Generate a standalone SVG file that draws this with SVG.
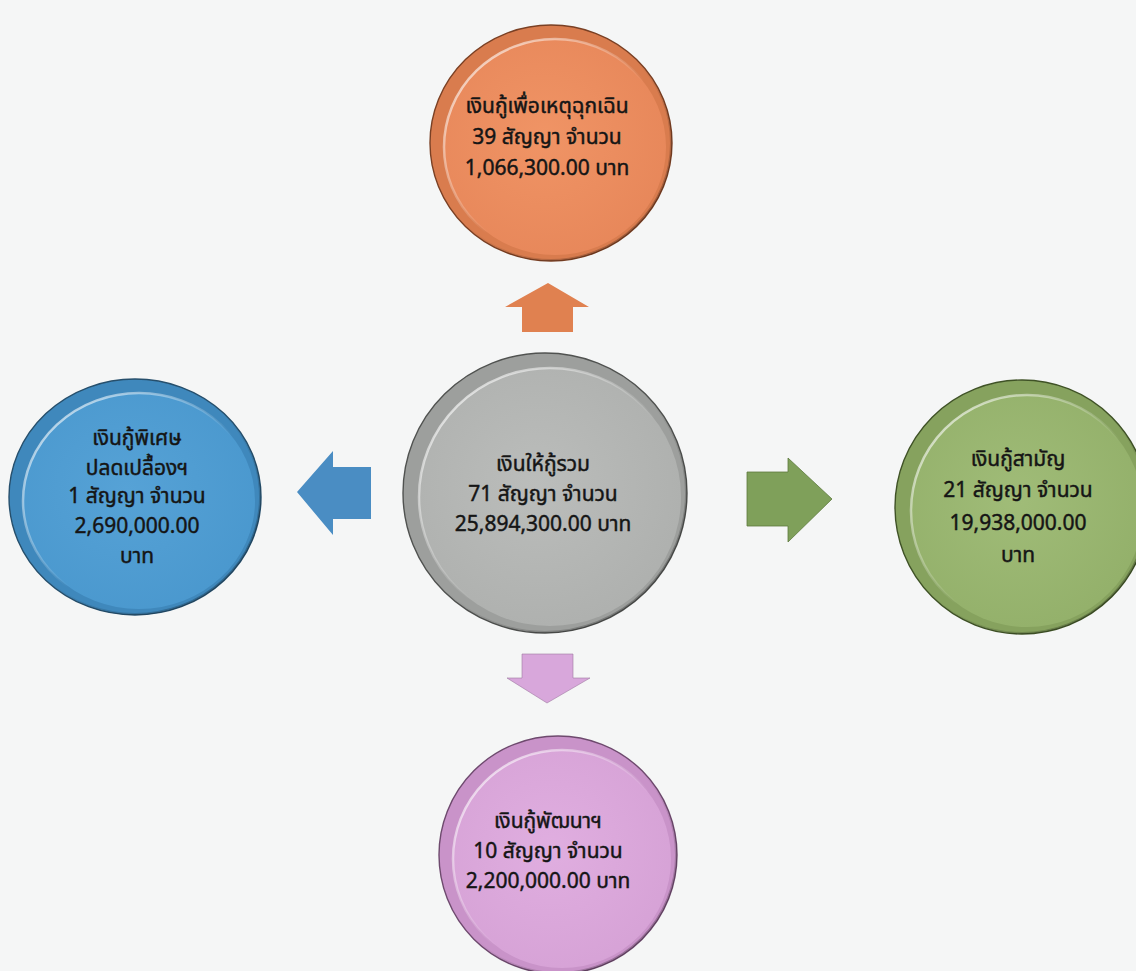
<svg xmlns="http://www.w3.org/2000/svg" width="1136" height="971" viewBox="0 0 1136 971">
<style>
  .lbl { font-family: "Noto Sans Thai", Tahoma, "Liberation Sans", "DejaVu Sans", sans-serif; font-size: 21px; fill: #151515; stroke: #151515; stroke-width: 0.45; text-anchor: middle; }
  .rimline { stroke-width: 1.4; }
  .hl { fill: none; stroke: url(#hlGrad); stroke-width: 2.5; }
  .shade { fill: none; stroke: url(#shGrad); stroke-width: 2; }
</style>
<defs>
  <linearGradient id="hlGrad" x1="0" y1="0" x2="1" y2="1">
    <stop offset="0" stop-color="#ffffff" stop-opacity="0.8"/>
    <stop offset="0.4" stop-color="#ffffff" stop-opacity="0.25"/>
    <stop offset="0.55" stop-color="#ffffff" stop-opacity="0"/>
  </linearGradient>
  <linearGradient id="shGrad" x1="0" y1="0" x2="1" y2="1">
    <stop offset="0.5" stop-color="#000000" stop-opacity="0"/>
    <stop offset="1" stop-color="#000000" stop-opacity="0.35"/>
  </linearGradient>
  <radialGradient id="fOrange" cx="0.45" cy="0.45" r="0.6">
    <stop offset="0" stop-color="#F09465"/><stop offset="1" stop-color="#E7875A"/>
  </radialGradient>
  <radialGradient id="fGray" cx="0.45" cy="0.45" r="0.6">
    <stop offset="0" stop-color="#BBBDBB"/><stop offset="1" stop-color="#AEB0AE"/>
  </radialGradient>
  <radialGradient id="fBlue" cx="0.45" cy="0.45" r="0.6">
    <stop offset="0" stop-color="#56A2D6"/><stop offset="1" stop-color="#4A98CE"/>
  </radialGradient>
  <radialGradient id="fGreen" cx="0.45" cy="0.45" r="0.6">
    <stop offset="0" stop-color="#A0BC78"/><stop offset="1" stop-color="#93B06A"/>
  </radialGradient>
  <radialGradient id="fPink" cx="0.45" cy="0.45" r="0.6">
    <stop offset="0" stop-color="#E0AEE0"/><stop offset="1" stop-color="#D6A2D6"/>
  </radialGradient>
</defs>
<rect width="1136" height="971" fill="#F5F6F6"/>

<g id="connectors">
  <polygon id="arrow-top" points="548,283 589,307 573,307 573,332 522,332 522,307 505,307" fill="#E08150"/>
  <polygon id="arrow-left" points="297,492 333,451 333,467 371,467 371,519 333,519 333,535" fill="#4A8DC3"/>
  <polygon id="arrow-right" points="832,499 788,458 788,472 747,472 747,526 788,526 788,542" fill="#7FA05A" stroke="#5d7a3e" stroke-width="0.8"/>
  <polygon id="arrow-bottom" points="547,703 590,678 573,678 573,654 522,654 522,678 507,678" fill="#D8A7DB" stroke="#a07aa3" stroke-width="0.6"/>
</g>

<g id="node-top">
  <ellipse cx="551" cy="143" rx="121" ry="118" class="rimline" fill="#D97C4E" stroke="#7a4024"/>
  <ellipse cx="555" cy="147" rx="111" ry="108" fill="url(#fOrange)"/>
  <ellipse cx="555" cy="147" rx="111" ry="108" class="hl"/>
  <ellipse cx="551" cy="143" rx="120" ry="117" class="shade"/>
  <text class="lbl" x="547" y="113">เงินกู้เพื่อเหตุฉุกเฉิน</text>
  <text class="lbl" x="547" y="144">39 สัญญา จำนวน</text>
  <text class="lbl" x="547" y="175">1,066,300.00 บาท</text>
</g>

<g id="node-center">
  <ellipse cx="545" cy="493" rx="142" ry="140" class="rimline" fill="#9D9F9D" stroke="#505250"/>
  <ellipse cx="550" cy="497" rx="131" ry="129" fill="url(#fGray)"/>
  <ellipse cx="550" cy="497" rx="131" ry="129" class="hl"/>
  <ellipse cx="545" cy="493" rx="141" ry="139" class="shade"/>
  <text class="lbl" x="543" y="471">เงินให้กู้รวม</text>
  <text class="lbl" x="543" y="501">71 สัญญา จำนวน</text>
  <text class="lbl" x="543" y="531">25,894,300.00 บาท</text>
</g>

<g id="node-left">
  <ellipse cx="135" cy="497" rx="126" ry="118" class="rimline" fill="#3F88BC" stroke="#264f6c"/>
  <ellipse cx="139" cy="501" rx="116" ry="108" fill="url(#fBlue)"/>
  <ellipse cx="139" cy="501" rx="116" ry="108" class="hl"/>
  <ellipse cx="135" cy="497" rx="125" ry="117" class="shade"/>
  <text class="lbl" x="137" y="445">เงินกู้พิเศษ</text>
  <text class="lbl" x="137" y="475">ปลดเปลื้องฯ</text>
  <text class="lbl" x="137" y="503">1 สัญญา จำนวน</text>
  <text class="lbl" x="137" y="533">2,690,000.00</text>
  <text class="lbl" x="137" y="563">บาท</text>
</g>

<g id="node-right">
  <ellipse cx="1022" cy="507" rx="127" ry="127" class="rimline" fill="#86A25E" stroke="#3f5226"/>
  <ellipse cx="1027" cy="511" rx="116" ry="116" fill="url(#fGreen)"/>
  <ellipse cx="1027" cy="511" rx="116" ry="116" class="hl"/>
  <ellipse cx="1022" cy="507" rx="126" ry="126" class="shade"/>
  <text class="lbl" x="1018" y="466">เงินกู้สามัญ</text>
  <text class="lbl" x="1018" y="497">21 สัญญา จำนวน</text>
  <text class="lbl" x="1018" y="530">19,938,000.00</text>
  <text class="lbl" x="1018" y="562">บาท</text>
</g>

<g id="node-bottom">
  <ellipse cx="558" cy="855" rx="119" ry="119" class="rimline" fill="#C993C9" stroke="#6e4a6e"/>
  <ellipse cx="562" cy="859" rx="109" ry="109" fill="url(#fPink)"/>
  <ellipse cx="562" cy="859" rx="109" ry="109" class="hl"/>
  <ellipse cx="558" cy="855" rx="118" ry="118" class="shade"/>
  <text class="lbl" x="548" y="828">เงินกู้พัฒนาฯ</text>
  <text class="lbl" x="548" y="858">10 สัญญา จำนวน</text>
  <text class="lbl" x="548" y="888">2,200,000.00 บาท</text>
</g>
</svg>
